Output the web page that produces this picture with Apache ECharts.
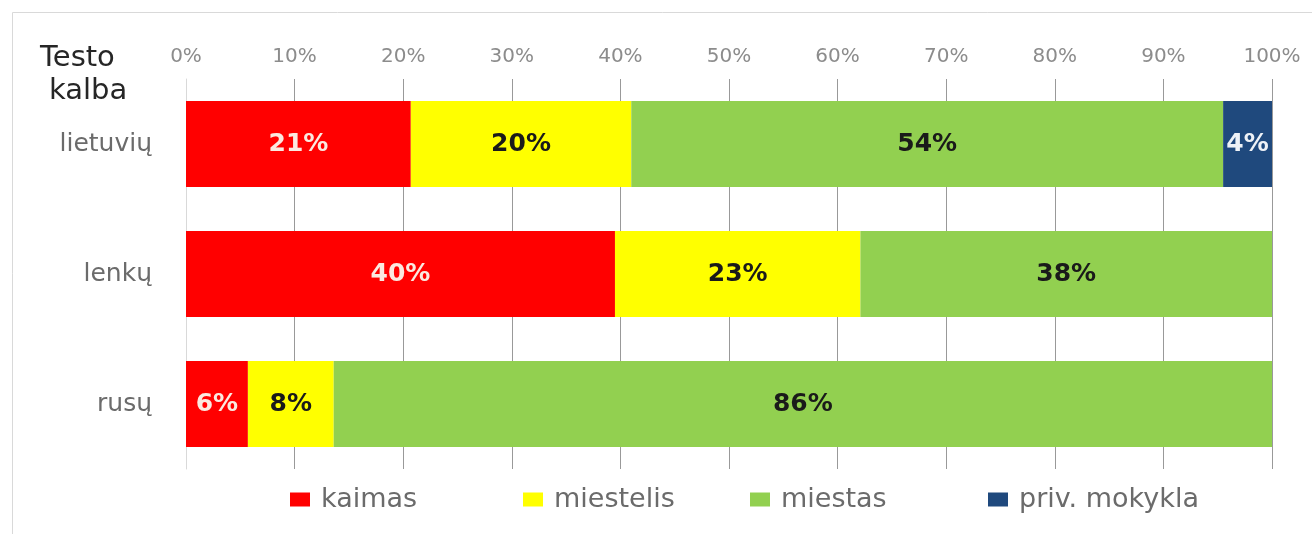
<!DOCTYPE html>
<html>
<head>
<meta charset="utf-8">
<script src="https://cdn.jsdelivr.net/npm/echarts@6/dist/echarts.min.js"></script>
<style>html,body{margin:0;padding:0;background:#fff}#c{width:1312px;height:534px}</style>
</head>
<body>
<div id="c"></div>
<script>
const categories = ['lietuvių', 'lenkų', 'rusų'];
const seriesNames = ['kaimas', 'miestelis', 'miestas', 'priv. mokykla'];
const kaimas = [20.7, 39.5, 5.7];
const miestelis = [20.3, 22.6, 7.9];
const miestas = [54.5, 37.9, 86.4];
const privMokykla = [4.5, 0, 0];
const kaimasLabels = ['21%', '40%', '6%'];
const miestelisLabels = ['20%', '23%', '8%'];
const miestasLabels = ['54%', '38%', '86%'];
const privLabels = ['4%', '', ''];
const xTicks = [0, 10, 20, 30, 40, 50, 60, 70, 80, 90, 100];

const FONT = 'DejaVu Sans';
const colors = ['#FF0000', '#FFFF00', '#92D050', '#1F497D'];
const labelColors = ['#fbe9e0', '#1a1a1a', '#1a1a1a', '#eef2f7'];
const values = [kaimas, miestelis, miestas, privMokykla];
const labels = [kaimasLabels, miestelisLabels, miestasLabels, privLabels];

const chart = echarts.init(document.getElementById('c'));
const legendLefts = [285, 518, 745, 983];

chart.setOption({
  animation: false,
  textStyle: { fontFamily: FONT },
  graphic: [
    { type: 'rect', shape: { x: 12.5, y: 12.5, width: 1400, height: 600 }, style: { fill: 'none', stroke: '#d9d9d9', lineWidth: 1 } },
    { type: 'text', left: 40, top: 44, style: { text: 'Testo', font: '29px "DejaVu Sans"', fill: '#262626' } },
    { type: 'text', left: 49, top: 77, style: { text: 'kalba', font: '29px "DejaVu Sans"', fill: '#262626' } }
  ],
  legend: seriesNames.map((n, i) => ({
    data: [n],
    left: legendLefts[i],
    top: 481,
    itemWidth: 20,
    itemHeight: 14,
    itemGap: 0,
    icon: 'rect',
    selectedMode: false,
    textStyle: { fontFamily: FONT, fontSize: 27, color: '#6b6b6b', padding: [0, 0, 0, 6] }
  })),
  grid: { left: 186, right: 40, top: 79, bottom: 65 },
  xAxis: {
    type: 'value', position: 'top', min: 0, max: 100, interval: 10,
    axisLine: { show: false }, axisTick: { show: false },
    axisLabel: { formatter: v => xTicks.includes(v) ? v + '%' : '', color: '#8c8c8c', fontSize: 20, fontFamily: FONT, margin: 12 },
    splitLine: { show: true, lineStyle: { color: '#999999', width: 1 } }
  },
  yAxis: {
    type: 'category', data: categories, inverse: true,
    axisLine: { show: true, lineStyle: { color: '#d9d9d9' } },
    axisTick: { show: false },
    axisLabel: { color: '#6b6b6b', fontSize: 25, fontFamily: FONT, margin: 34 }
  },
  series: seriesNames.map((n, i) => ({
    name: n, type: 'bar', stack: 'total', barWidth: 86,
    itemStyle: { color: colors[i] },
    data: values[i],
    label: {
      show: true, position: 'inside',
      formatter: p => labels[i][p.dataIndex],
      color: labelColors[i], fontWeight: 'bold', fontSize: 25, fontFamily: FONT
    }
  }))
});
</script>
</body>
</html>
